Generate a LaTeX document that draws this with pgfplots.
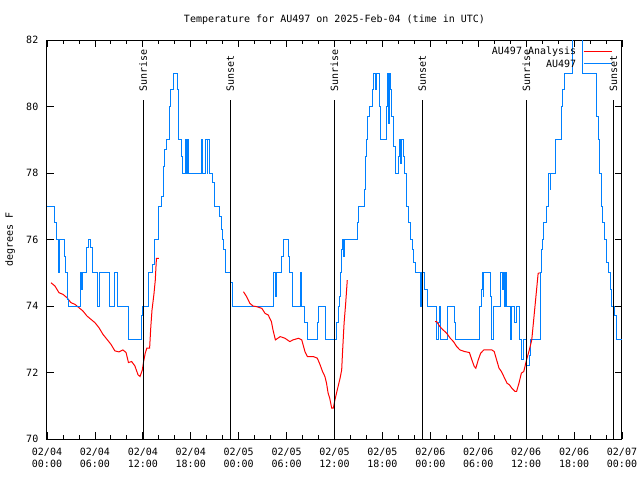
\documentclass[border=0pt]{standalone}
\usepackage{fontspec}
\setmainfont{DejaVu Sans Mono}
\usepackage{pgfplots}
\pgfplotsset{compat=1.18}
\definecolor{gblue}{RGB}{0,128,255}
\definecolor{gred}{RGB}{255,0,0}
\begin{document}
\begin{tikzpicture}[font=\fontsize{7.5}{9}\selectfont]
\path[use as bounding box] (0,0) rectangle (480pt,360pt);
\begin{axis}[
  at={(35.25pt,30.75pt)}, anchor=south west,
  scale only axis, width=431.25pt, height=299.25pt,
  xmin=0, xmax=72, ymin=70, ymax=82,
  xtick={0,6,...,72},
  xticklabels={02/04\\00:00,02/04\\06:00,02/04\\12:00,02/04\\18:00,02/05\\00:00,02/05\\06:00,02/05\\12:00,02/05\\18:00,02/06\\00:00,02/06\\06:00,02/06\\12:00,02/06\\18:00,02/07\\00:00},
  minor x tick num=2,
  ytick={70,72,...,82},
  tick align=inside,
  major tick length=5pt, minor tick length=3pt,
  tick style={black, line width=0.6pt},
  axis line style={line width=0.75pt},
  xticklabel style={align=center, yshift=-3pt, font=\fontsize{7.5}{9}\selectfont},
  yticklabel style={xshift=-3pt, font=\fontsize{7.5}{9}\selectfont},
  /pgf/number format/assume math mode=true,
  title={Temperature for AU497 on 2025-Feb-04 (time in UTC)},
  title style={at={(axis description cs:0.5,1)}, anchor=center, yshift=9.5pt, font=\fontsize{7.5}{9}\selectfont},
  ylabel={degrees F},
  ylabel style={at={(axis description cs:-0.0643,0.5)}, anchor=center, font=\fontsize{7.5}{9}\selectfont},
]
% Analysis (red)
\addplot[gred, line width=0.75pt] coordinates {
(0.5,74.70) (1.0,74.6) (1.5,74.4) (2.0,74.35) (2.5,74.25) (3.0,74.1) (3.5,74.05) (4.0,73.95)
(4.5,73.85) (5.0,73.7) (5.5,73.6) (6.0,73.5) (6.5,73.35) (7.0,73.15) (7.5,73.0) (8.0,72.85)
(8.5,72.65) (9.0,72.62) (9.5,72.68) (9.9,72.6) (10.2,72.3) (10.6,72.33) (11.0,72.2) (11.4,71.93)
(11.65,71.88) (11.93,72.07) (12.1,72.33) (12.3,72.58) (12.5,72.73) (12.85,72.73) (13.0,73.38)
(13.15,73.88) (13.4,74.38) (13.56,74.78) (13.7,75.43) (14.0,75.43)
};
% Station (blue)
\addplot[gblue, line width=0.75pt, const plot] coordinates {
(0,77) (1.0,76.5) (1.15,76) (1.5,75) (1.6,76) (2.2,75.5) (2.3,75) (2.55,74.2) (2.67,74)
(4.25,75) (4.35,74.5) (4.45,75) (5.0,75.75) (5.2,76) (5.5,75.75) (5.7,75) (6.3,74) (6.6,75)
(7.8,74) (8.4,75) (8.85,74) (10.2,73) (11.8,73.7) (12.0,74) (12.65,75) (13.2,75.25) (13.4,76)
(13.9,77) (14.4,77.3) (14.55,78.2) (14.75,78.7) (15.0,79) (15.35,80) (15.5,80.5) (15.9,81)
(16.4,80.5) (16.5,79) (16.8,78.5) (16.95,78) (17.3,79) (17.45,78) (17.55,79) (17.7,78)
(19.3,79) (19.5,78) (19.8,79) (20.05,78) (20.15,79) (20.3,78) (20.75,77.7) (21.0,77)
(21.6,76.7) (21.8,76.3) (22.0,76) (22.1,75.7) (22.3,75) (23.0,74.7) (23.25,74)
(28.4,75) (28.55,74.3) (28.7,75) (29.4,75.5) (29.6,76) (30.2,75.5) (30.35,75) (30.8,74)
(31.7,75) (31.85,74) (32.3,73.5) (32.6,73) (33.85,73.5) (34.0,74) (34.85,73) (36.3,73.5)
(36.45,74) (36.6,74.3) (36.75,75) (36.9,75.7) (37.05,76) (37.15,75.5) (37.25,76) (38.85,76.5)
(39.0,77) (39.75,77.5) (39.85,78.5) (39.95,79) (40.1,79.7) (40.4,80) (40.8,80.5) (40.9,81)
(41.1,80.5) (41.2,81) (41.6,80) (41.8,79) (42.5,80) (42.6,81) (42.7,79.5) (42.85,81)
(43.0,80.5) (43.2,79.7) (43.4,78.8) (43.6,78) (44.0,78.5) (44.2,79) (44.3,78.3) (44.45,79)
(44.6,78.5) (44.8,78) (45.0,77) (45.3,76.5) (45.5,76) (45.75,75.7) (45.9,75.3) (46.2,75)
(46.75,74) (46.85,75) (47.3,74.5) (47.6,74) (48.8,73) (49.0,73.5) (49.1,74) (49.3,73)
(50.2,74) (51.05,73.5) (51.2,73) (54.1,74) (54.4,74.5) (54.5,75) (54.6,74.3) (54.7,75)
(55.5,74.3) (55.7,73) (55.9,74) (56.8,75) (57.0,74.5) (57.1,75) (57.3,74) (57.4,75) (57.5,74)
(58.0,73) (58.2,74) (58.6,73.5) (58.8,74) (59.2,73) (59.4,72.4) (59.7,73) (60.0,72.2)
(60.4,72.5) (60.6,73) (61.8,75) (61.9,75.7) (62.0,76) (62.2,76.5) (62.6,77) (62.8,78)
(63.0,77.5) (63.1,78) (63.7,79) (64.4,80) (64.6,80.5) (64.85,81) (65.8,83) (66.1,82.5)
(67.0,81) (68.8,79.7) (69.0,79) (69.2,78) (69.4,77) (69.6,76.5) (69.8,76) (70.0,75.3)
(70.3,75) (70.5,74.5) (70.7,74) (71.1,73.7) (71.3,73) (72,73)
};
\addplot[gred, line width=0.75pt] coordinates {
(24.6,74.43) (25.0,74.28) (25.4,74.08) (25.8,74.0) (26.25,73.98) (26.9,73.93) (27.3,73.78)
(27.7,73.73) (28.1,73.53) (28.3,73.28) (28.6,72.98) (29.2,73.08) (29.8,73.03) (30.4,72.93)
(30.8,72.98) (31.5,73.03) (31.9,72.98) (32.3,72.63) (32.6,72.48) (33.35,72.48) (33.85,72.43)
(34.2,72.23) (34.5,72.03) (34.8,71.88) (35.0,71.68) (35.2,71.38) (35.4,71.23) (35.65,70.93)
(35.85,70.93) (36.06,71.18) (36.3,71.43) (36.5,71.63) (36.7,71.83) (36.9,72.08) (37.0,72.58)
(37.2,73.48) (37.4,74.08) (37.6,74.78)
};
\addplot[gred, line width=0.75pt] coordinates {
(48.6,73.53) (48.8,73.53) (49.2,73.38) (49.6,73.28) (50.05,73.18) (50.5,73.03) (50.9,72.93)
(51.3,72.78) (51.7,72.68) (52.3,72.63) (52.9,72.6) (53.2,72.38) (53.5,72.18) (53.7,72.13)
(54.0,72.38) (54.3,72.58) (54.7,72.68) (55.3,72.68) (55.7,72.68) (56.0,72.63) (56.3,72.38)
(56.6,72.13) (56.9,72.03) (57.2,71.88) (57.6,71.68) (57.9,71.63) (58.2,71.53) (58.6,71.43)
(58.8,71.43) (59.1,71.68) (59.4,71.98) (59.7,72.03) (60.05,72.38) (60.4,72.68) (60.7,72.98)
(60.9,73.48) (61.1,73.98) (61.3,74.48) (61.5,74.98) (61.7,75.0)
};
% Sunrise / sunset lines
\addplot[black, line width=0.75pt] coordinates {(12.05,70) (12.05,80.2)};
\addplot[black, line width=0.75pt] coordinates {(22.95,70) (22.95,80.2)};
\addplot[black, line width=0.75pt] coordinates {(36.0,70) (36.0,80.2)};
\addplot[black, line width=0.75pt] coordinates {(47.0,70) (47.0,80.2)};
\addplot[black, line width=0.75pt] coordinates {(60.02,70) (60.02,80.2)};
\addplot[black, line width=0.75pt] coordinates {(70.92,70) (70.92,80.2)};
% legend samples
\addplot[gred, line width=0.75pt] coordinates {(67.2,81.64) (70.8,81.64)};
\addplot[gblue, line width=0.75pt] coordinates {(67.2,81.28) (70.8,81.28)};
\node[rotate=90, anchor=west, inner sep=0pt] at (axis cs:12.05,80.45) {Sunrise};
\node[rotate=90, anchor=west, inner sep=0pt] at (axis cs:22.95,80.45) {Sunset};
\node[rotate=90, anchor=west, inner sep=0pt] at (axis cs:36.0,80.45) {Sunrise};
\node[rotate=90, anchor=west, inner sep=0pt] at (axis cs:47.0,80.45) {Sunset};
\node[rotate=90, anchor=west, inner sep=0pt] at (axis cs:60.02,80.45) {Sunrise};
\node[rotate=90, anchor=west, inner sep=0pt] at (axis cs:70.92,80.45) {Sunset};
\node[anchor=east, inner sep=0pt] at (axis cs:66.3,81.64) {AU497 Analysis};
\node[anchor=east, inner sep=0pt] at (axis cs:66.3,81.28) {AU497};
\end{axis}
\end{tikzpicture}
\end{document}
